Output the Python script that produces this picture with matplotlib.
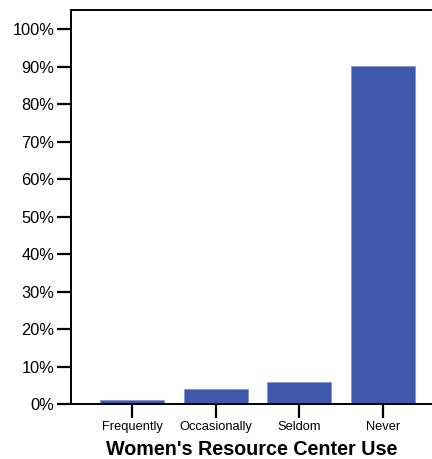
import matplotlib.pyplot as plt
from matplotlib.ticker import FuncFormatter

plt.rcParams['font.family'] = ['Liberation Sans', 'DejaVu Sans']

categories = ['Frequently', 'Occasionally', 'Seldom', 'Never']
percent = [1.0, 3.9, 5.8, 90.2]
yticks = [0, 10, 20, 30, 40, 50, 60, 70, 80, 90, 100]

fig = plt.figure(figsize=(4.32, 4.59), dpi=100)
# axes box in pixel terms: left 71, right 432, top 9.5, bottom 404
ax = fig.add_axes([71/432, 1 - 404/459, (432 - 71)/432, (404 - 9.5)/459])

x = range(len(categories))
ax.bar(x, percent, width=0.765, color='#3E58AB', edgecolor='#8796CC', linewidth=0.6)

ax.set_xlim(-0.73, 3.585)
ax.set_ylim(0, 105.3)
ax.set_xticks(list(x))
ax.set_xticklabels(categories, fontsize=9.3)
ax.set_yticks(yticks)
ax.yaxis.set_major_formatter(FuncFormatter(lambda v, p: '%d%%' % v))
ax.tick_params(axis='y', labelsize=11.8, length=10, width=1.6, direction='out', pad=2)
ax.tick_params(axis='x', length=10, width=1.6, direction='out', pad=2)

ax.spines['right'].set_visible(False)
for s in ['left', 'top', 'bottom']:
    ax.spines[s].set_linewidth(1.4)

ax.set_xlabel("Women's Resource Center Use", fontsize=14.2, fontweight='bold', labelpad=5)

fig.savefig('out.png', dpi=100)
